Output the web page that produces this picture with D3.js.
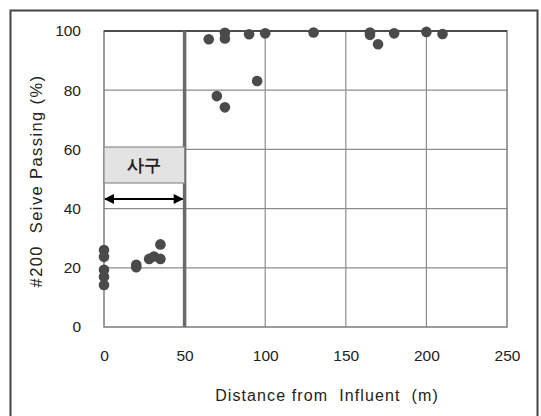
<!DOCTYPE html>
<html>
<head>
<meta charset="utf-8">
<script src="https://cdn.jsdelivr.net/npm/d3@7"></script>
<style>
  body { margin: 0; background: #fff; }
  text { font-family: "Liberation Sans", Arial, sans-serif; fill: #222; }
</style>
</head>
<body>
<div id="chart"></div>
<script>
  // size of the svg
  var width = 541,
      height = 416;

  // plot area
  var plotLeft = 104, plotRight = 507, plotTop = 31, plotBottom = 327;

  // data
  var distance = [0, 0, 0, 0, 0, 20, 20, 28, 31, 35, 35,
                  65, 70, 75, 75, 75, 90, 95, 100, 130, 165, 165, 170, 180, 200, 210];
  var passing = [26, 23.7, 19.3, 17, 14.2, 21, 20.2, 23, 23.8, 23, 27.9,
                 97.2, 78, 99.4, 97.5, 74.2, 98.9, 83.1, 99.2, 99.5, 99.5, 98.7, 95.5, 99.2, 99.7, 99];
  var xTicks = [0, 50, 100, 150, 200, 250];
  var yTicks = [0, 20, 40, 60, 80, 100];
  var dunes = 50;            // edge of the dune zone
  var zoneLabel = "사구";

  var svg = d3.select("#chart")
    .append("svg")
    .attr("width", width)
    .attr("height", height);

  // outer frame of the chart
  svg.append("rect")
    .attr("x", 10.5).attr("y", 10.5)
    .attr("width", 527).attr("height", 420)
    .attr("fill", "none")
    .attr("stroke", "#444")
    .attr("stroke-width", 2);

  var x = d3.scaleLinear().domain([0, 250]).range([plotLeft, plotRight]);
  var y = d3.scaleLinear().domain([0, 100]).range([plotBottom, plotTop]);

  // grid lines
  svg.append("g")
    .selectAll("line")
    .data(xTicks.slice(1, -1))
    .enter().append("line")
    .attr("x1", d => x(d)).attr("x2", d => x(d))
    .attr("y1", plotTop).attr("y2", plotBottom)
    .attr("stroke", "#8c8c8c").attr("stroke-width", 1.2);

  svg.append("g")
    .selectAll("line")
    .data(yTicks.slice(1, -1))
    .enter().append("line")
    .attr("x1", plotLeft).attr("x2", plotRight)
    .attr("y1", d => y(d)).attr("y2", d => y(d))
    .attr("stroke", "#8c8c8c").attr("stroke-width", 1.2);

  // plot border
  svg.append("rect")
    .attr("x", plotLeft).attr("y", plotTop)
    .attr("width", plotRight - plotLeft).attr("height", plotBottom - plotTop)
    .attr("fill", "none")
    .attr("stroke", "#7c7c7c").attr("stroke-width", 1.5);

  svg.append("line")
    .attr("x1", plotLeft).attr("x2", plotRight)
    .attr("y1", y(100)).attr("y2", y(100))
    .attr("stroke", "#333").attr("stroke-width", 1.5);

  // thick line at the dune edge
  svg.append("line")
    .attr("x1", x(dunes)).attr("x2", x(dunes))
    .attr("y1", plotTop).attr("y2", plotBottom)
    .attr("stroke", "#6a6a6a").attr("stroke-width", 3.5);

  // axes, only their labels are shown
  var xAxis = svg.append("g")
    .attr("transform", "translate(0," + (plotBottom + 23) + ")")
    .call(d3.axisBottom(x).tickValues(xTicks).tickSize(0).tickPadding(0));
  var yAxis = svg.append("g")
    .attr("transform", "translate(" + (plotLeft - 23) + ",0)")
    .call(d3.axisLeft(y).tickValues(yTicks).tickSize(0).tickPadding(0));

  [xAxis, yAxis].forEach(function(a) {
    a.select(".domain").remove();
    a.selectAll("text")
      .attr("font-family", "Liberation Sans, Arial, sans-serif")
      .attr("font-size", 15.5)
      .attr("fill", "#222");
  });
  xAxis.selectAll("text").attr("dy", "0.71em");

  // axis titles
  svg.append("text")
    .attr("x", 327).attr("y", 401)
    .attr("text-anchor", "middle")
    .attr("font-size", 16)
    .attr("letter-spacing", 1.1)
    .attr("xml:space", "preserve")
    .text("Distance from  Influent  (m)");

  svg.append("text")
    .attr("transform", "translate(42,181) rotate(-90)")
    .attr("text-anchor", "middle")
    .attr("font-size", 16.5)
    .attr("letter-spacing", 1.4)
    .attr("xml:space", "preserve")
    .text("#200  Seive Passing (%)");

  // dune zone label box
  svg.append("rect")
    .attr("x", x(0)).attr("y", 147)
    .attr("width", x(dunes) - x(0)).attr("height", 36)
    .attr("fill", "#e3e3e3")
    .attr("stroke", "#8c8c8c").attr("stroke-width", 1.2);

  svg.append("text")
    .attr("x", (x(0) + x(dunes)) / 2).attr("y", 171)
    .attr("text-anchor", "middle")
    .attr("font-family", "Noto Sans CJK KR, sans-serif")
    .attr("font-weight", "bold")
    .attr("font-size", 17)
    .text(zoneLabel);

  // double headed arrow under the box
  var defs = svg.append("defs");
  defs.append("marker")
    .attr("id", "head")
    .attr("viewBox", "0 0 10 10")
    .attr("refX", 9).attr("refY", 5)
    .attr("markerWidth", 5).attr("markerHeight", 4.5)
    .attr("orient", "auto-start-reverse")
    .append("path")
    .attr("d", "M0,0 L10,5 L0,10 Z")
    .attr("fill", "#000");

  svg.append("line")
    .attr("x1", x(0) + 1).attr("x2", x(dunes) - 2)
    .attr("y1", 199).attr("y2", 199)
    .attr("stroke", "#000").attr("stroke-width", 2.2)
    .attr("marker-start", "url(#head)")
    .attr("marker-end", "url(#head)");

  // sample points
  svg.append("g")
    .selectAll("circle")
    .data(distance)
    .enter().append("circle")
    .attr("cx", d => x(d))
    .attr("cy", (d, i) => y(passing[i]))
    .attr("r", 5.3)
    .attr("fill", "#4a4a4a");
</script>
</body>
</html>
